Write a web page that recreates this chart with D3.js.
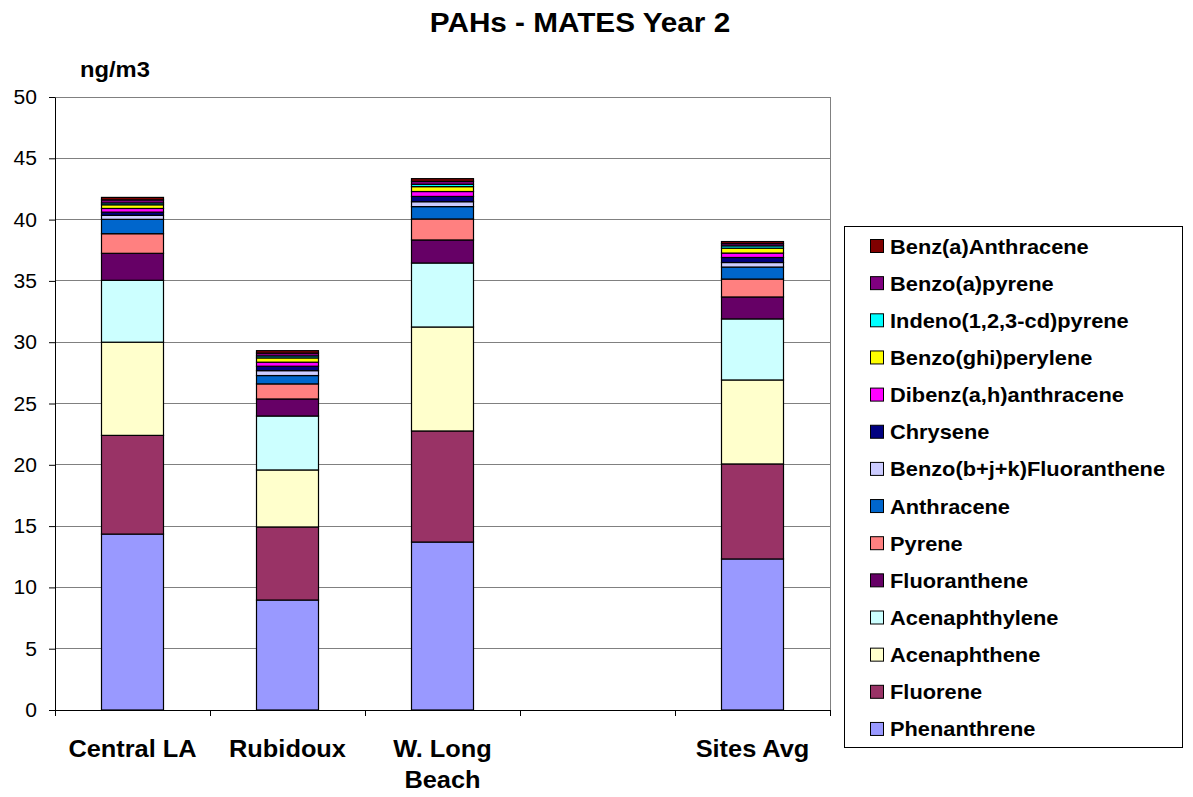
<!DOCTYPE html>
<html>
<head>
<meta charset="utf-8">
<script src="https://cdn.jsdelivr.net/npm/d3@7"></script>
<style>
  html, body { margin: 0; padding: 0; background: #fff; }
  svg { display: block; font-family: Arial, "Liberation Sans", sans-serif; }
</style>
</head>
<body>
<svg id="chart" width="1193" height="797"></svg>
<script>
// Sites along the x axis (fourth slot is left blank)
const sites = ["Central LA", "Rubidoux", "W. Long Beach", "", "Sites Avg"];

// Compounds in stacking order, bottom to top
const compounds = [
  "Phenanthrene", "Fluorene", "Acenaphthene", "Acenaphthylene", "Fluoranthene",
  "Pyrene", "Anthracene", "Benzo(b+j+k)Fluoranthene", "Chrysene",
  "Dibenz(a,h)anthracene", "Benzo(ghi)perylene", "Indeno(1,2,3-cd)pyrene",
  "Benzo(a)pyrene", "Benz(a)Anthracene"
];

const colors = [
  "#9999FF", "#993366", "#FFFFCC", "#CCFFFF", "#660066",
  "#FF8080", "#0066CC", "#CCCCFF", "#000080",
  "#FF00FF", "#FFFF00", "#00FFFF",
  "#800080", "#800000"
];

// ng/m3 per compound, one value per site (blank slot = null)
const phenanthrene   = [14.35, 8.97, 13.70, null, 12.32];
const fluorene       = [8.05, 5.96, 9.06, null, 7.75];
const acenaphthene   = [7.60, 4.65, 8.48, null, 6.85];
const acenaphthylene = [5.05, 4.40, 5.22, null, 4.98];
const fluoranthene   = [2.20, 1.39, 1.88, null, 1.79];
const pyrene         = [1.60, 1.23, 1.71, null, 1.46];
const anthracene     = [1.17, 0.68, 1.01, null, 0.98];
const benzoBJK       = [0.33, 0.40, 0.40, null, 0.37];
const chrysene       = [0.26, 0.36, 0.43, null, 0.41];
const dibenzAH       = [0.30, 0.33, 0.40, null, 0.36];
const benzoGHI       = [0.30, 0.35, 0.40, null, 0.40];
const indeno         = [0.15, 0.16, 0.19, null, 0.19];
const benzoAPyrene   = [0.25, 0.23, 0.24, null, 0.18];
const benzAAnthr     = [0.20, 0.20, 0.22, null, 0.17];

const seriesValues = [
  phenanthrene, fluorene, acenaphthene, acenaphthylene, fluoranthene,
  pyrene, anthracene, benzoBJK, chrysene, dibenzAH, benzoGHI, indeno,
  benzoAPyrene, benzAAnthr
];

const yTicks = [0, 5, 10, 15, 20, 25, 30, 35, 40, 45, 50];

const svg = d3.select("#chart");
const plot = { left: 55, right: 830, top: 97, bottom: 710 };
const SX = 1.08; // slightly wide lettering

// Text placed inside a horizontally stretched group
function label(parent, x, y, str, opts) {
  const g = parent.append("g").attr("transform", `translate(${x},${y}) scale(${SX},1)`);
  return g.append("text")
    .attr("x", 0).attr("y", 0)
    .attr("text-anchor", opts.anchor || "start")
    .attr("font-size", opts.size)
    .attr("font-weight", opts.bold ? "bold" : "normal")
    .attr("fill", "#000")
    .text(str);
}

const x = d3.scaleBand()
  .domain(sites.map((s, i) => i))
  .range([plot.left, plot.right])
  .paddingInner(0.6)
  .paddingOuter(0.3);

const y = d3.scaleLinear().domain([0, 50]).range([plot.bottom, plot.top]);

// Table for d3.stack: one row per site
const rows = sites.map((s, i) => {
  const r = { idx: i };
  compounds.forEach((c, k) => { r[c] = seriesValues[k][i] == null ? 0 : seriesValues[k][i]; });
  return r;
});
const stacked = d3.stack().keys(compounds)(rows);

// Gridlines
svg.append("g")
  .selectAll("line")
  .data(yTicks.slice(1))
  .join("line")
  .attr("x1", plot.left).attr("x2", plot.right)
  .attr("y1", d => y(d)).attr("y2", d => y(d))
  .attr("stroke", "#808080").attr("stroke-width", 1)
  .attr("shape-rendering", "crispEdges");

// Plot border (right side)
svg.append("line")
  .attr("x1", plot.right).attr("x2", plot.right)
  .attr("y1", plot.top).attr("y2", plot.bottom)
  .attr("stroke", "#808080").attr("shape-rendering", "crispEdges");

// Stacked bars
svg.append("g")
  .selectAll("g")
  .data(stacked)
  .join("g")
  .attr("fill", (d, k) => colors[k])
  .selectAll("rect")
  .data(d => d.filter(p => sites[p.data.idx] !== ""))
  .join("rect")
  .attr("x", p => x(p.data.idx))
  .attr("width", x.bandwidth())
  .attr("y", p => y(p[1]))
  .attr("height", p => y(p[0]) - y(p[1]))
  .attr("stroke", "#000")
  .attr("stroke-width", 1.2);

// Y axis
const yAxis = svg.append("g")
  .attr("transform", `translate(${plot.left},0)`)
  .call(d3.axisLeft(y).tickValues(yTicks).tickSize(6).tickSizeOuter(0).tickFormat(""));
yAxis.select(".domain").attr("stroke", "#000");
yAxis.selectAll(".tick line").attr("stroke", "#000");
const yLab = svg.append("g");
yTicks.forEach(v => {
  label(yLab, 37, y(v) + 7, String(v), { size: 19.5, anchor: "end" });
});

// X axis: ticks at band boundaries
const boundaries = d3.range(sites.length + 1).map(i => plot.left + i * (plot.right - plot.left) / sites.length);
svg.append("line")
  .attr("x1", plot.left).attr("x2", plot.right)
  .attr("y1", plot.bottom).attr("y2", plot.bottom)
  .attr("stroke", "#000").attr("shape-rendering", "crispEdges");
svg.append("g").selectAll("line")
  .data(boundaries)
  .join("line")
  .attr("x1", d => d).attr("x2", d => d)
  .attr("y1", plot.bottom).attr("y2", plot.bottom + 6)
  .attr("stroke", "#000").attr("shape-rendering", "crispEdges");

// Category labels (long names wrap onto two lines)
const catLines = { "W. Long Beach": ["W. Long", "Beach"] };
const catG = svg.append("g");
sites.forEach((s, i) => {
  if (!s) return;
  const lines = catLines[s] || [s];
  const cx = x(i) + x.bandwidth() / 2;
  lines.forEach((ln, j) => {
    label(catG, cx, 757 + j * 31, ln, { size: 23.5, bold: true, anchor: "middle" });
  });
});

// Title and unit label
label(svg, 580, 32, "PAHs - MATES Year 2", { size: 27.5, bold: true, anchor: "middle" });
label(svg, 80, 77, "ng/m3", { size: 22, bold: true });

// Legend (top entry is the last stacked compound)
const legend = svg.append("g");
legend.append("rect")
  .attr("x", 844.5).attr("y", 226.5)
  .attr("width", 338).attr("height", 521)
  .attr("fill", "#fff").attr("stroke", "#000");
const legendItems = compounds.map((c, k) => ({ c, color: colors[k] })).reverse();
legendItems.forEach((d, i) => {
  const cy = 246 + i * 37.15;
  legend.append("rect")
    .attr("x", 870.5).attr("y", cy - 6.5).attr("width", 13).attr("height", 13)
    .attr("fill", d.color).attr("stroke", "#000").attr("stroke-width", 1);
  label(legend, 890, cy + 7.5, d.c, { size: 20.2, bold: true });
});
</script>
</body>
</html>
